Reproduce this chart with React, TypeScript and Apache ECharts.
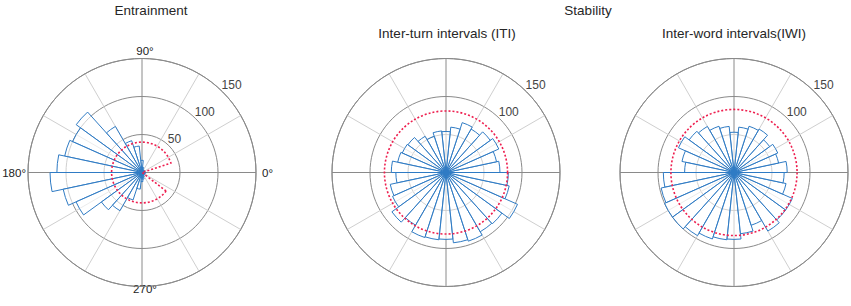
import React, { useEffect, useRef } from 'react';
import * as echarts from 'echarts';

// ---------------- data ----------------
const binStarts = [0, 12, 24, 36, 48, 60, 72, 84, 96, 108, 120, 132, 144, 156, 168, 180, 192, 204, 216, 228, 240, 252, 264, 276, 288, 300, 312, 324, 336, 348];
const binWidth = 12;

const entrainmentCounts = [4, 3, 2, 2, 1, 2, 7, 16, 35, 44, 70, 107, 100, 104, 112, 121, 106, 95, 66, 58, 38, 22, 12, 9, 6, 4, 3, 2, 3, 5];
const itiCounts = [71, 68, 76, 72, 66, 69, 60, 54, 55, 50, 55, 62, 63, 65, 72, 66, 75, 77, 88, 80, 90, 89, 88, 93, 95, 90, 91, 103, 85, 82];
const iwiCounts = [70, 60, 63, 58, 66, 64, 60, 53, 61, 64, 70, 73, 80, 70, 65, 93, 98, 100, 100, 96, 92, 89, 88, 81, 73, 89, 84, 84, 70, 66];

// reference (red dotted) outlines: [radius, fromAngle, toAngle]
const entrainmentRef = [40, 18, 322.5];
const itiRef = [81, 0, 360];
const iwiRef = [83, 0, 360];

const angleTickLabels = [0, 90, 180, 270];
const radialTicksEntrainment = [50, 100, 150];
const radialTicksStability = [100, 150];

const panelTitles = ['Entrainment', 'Inter-turn intervals (ITI)', 'Inter-word intervals(IWI)'];
const groupTitle = 'Stability';

// ---------------- style ----------------
const FONT = '"Liberation Sans", Arial, Helvetica, sans-serif';
const BLUE = '#2f7bc4';
const RED = '#ee1f4f';
const DARK_GRID = '#8a8a8a';
const LIGHT_GRID = '#cfcfcf';
const RMAX = 150;
const CENTERS = [142, 446, 734];
const CY = 172.5;
const RADIUS = 114;
const LABEL_ANGLE = 45;

function binRows(counts: number[]) {
  return counts.map((c, i) => [binStarts[i], binStarts[i] + binWidth, c]);
}

function barRender(params: any, api: any) {
  const a0 = api.value(0);
  const a1 = api.value(1);
  const v = api.value(2);
  const c = api.coord([0, 0]);
  const p = api.coord([v, a0]);
  const r = Math.hypot(p[0] - c[0], p[1] - c[1]);
  const d = Math.PI / 180;
  const sector = {
    type: 'sector',
    shape: { cx: c[0], cy: c[1], r0: 0, r, startAngle: -a1 * d, endAngle: -a0 * d, clockwise: true },
    style: { fill: 'rgba(255,255,255,0.6)', stroke: BLUE, lineWidth: 1 },
  };
  if (params.dataIndex === params.dataInsideLength - 1) {
    return {
      type: 'group',
      children: [
        sector,
        { type: 'circle', shape: { cx: c[0], cy: c[1], r: 3.5 }, style: { fill: BLUE } },
      ],
    };
  }
  return sector;
}

function refRender(params: any, api: any) {
  const rv = api.value(0);
  const from = api.value(1);
  const to = api.value(2);
  const c = api.coord([0, 0]);
  const p = api.coord([rv, from]);
  const r = Math.hypot(p[0] - c[0], p[1] - c[1]);
  const style = { fill: 'none', stroke: RED, lineWidth: 1.6, lineDash: [2, 2] };
  if (to - from >= 360) {
    return { type: 'circle', shape: { cx: c[0], cy: c[1], r }, style };
  }
  const d = Math.PI / 180;
  return {
    type: 'sector',
    shape: { cx: c[0], cy: c[1], r0: 0, r, startAngle: -to * d, endAngle: -from * d, clockwise: true },
    style,
  };
}

function tickLabelRender(params: any, api: any) {
  const t = api.value(0);
  const a = api.value(1);
  const p = api.coord([t, a]);
  return {
    type: 'text',
    x: p[0] - 1,
    y: p[1] - 7,
    style: {
      text: String(t),
      fill: '#444',
      fontSize: 12,
      fontFamily: FONT,
      align: 'left',
      verticalAlign: 'middle',
    },
  };
}

export default function App() {
  const ref = useRef<HTMLDivElement>(null);

  useEffect(() => {
    if (!ref.current) return;
    const chart = echarts.init(ref.current, undefined, { renderer: 'svg' });

    const polar = CENTERS.map((cx) => ({ center: [cx, CY], radius: RADIUS }));

    const labelRich = {
      a0: { padding: [0, 0, 0, 4] },
      a90: { padding: [0, 0, 0, 6] },
      a180: {},
      a270: { padding: [0, 0, 0, 6], lineHeight: 1 },
    };

    const angleAxis = CENTERS.map((_, i) => ({
      polarIndex: i,
      type: 'value',
      min: 0,
      max: 360,
      interval: 30,
      startAngle: 0,
      clockwise: false,
      axisLine: { show: true, lineStyle: { color: DARK_GRID, width: 1 } },
      axisTick: { show: false },
      axisLabel: {
        show: i === 0,
        margin: 2,
        fontFamily: FONT,
        fontSize: 11.5,
        color: '#222',
        rich: labelRich,
        formatter: (v: number) => (angleTickLabels.includes(v) ? `{a${v}|${v}°}` : ''),
      },
      splitLine: { show: true, lineStyle: { color: [DARK_GRID, LIGHT_GRID, LIGHT_GRID], width: 1 } },
    }));

    const radiusAxis = CENTERS.map((_, i) => ({
      polarIndex: i,
      type: 'value',
      min: 0,
      max: RMAX,
      interval: 50,
      axisLine: { show: false },
      axisTick: { show: false },
      axisLabel: { show: false },
      splitLine: { show: true, lineStyle: { color: DARK_GRID, width: 1 } },
    }));

    const countsList = [entrainmentCounts, itiCounts, iwiCounts];
    const refs = [entrainmentRef, itiRef, iwiRef];
    const radialTicks = [radialTicksEntrainment, radialTicksStability, radialTicksStability];

    const series: any[] = [];
    CENTERS.forEach((_, i) => {
      series.push({
        type: 'custom',
        coordinateSystem: 'polar',
        polarIndex: i,
        silent: true,
        z: 1,
        encode: { radius: 0, angle: 1 },
        renderItem: tickLabelRender,
        data: radialTicks[i].map((t) => [t, LABEL_ANGLE]),
      });
      series.push({
        type: 'custom',
        coordinateSystem: 'polar',
        polarIndex: i,
        z: 3,
        silent: true,
        encode: { radius: 2, angle: 0 },
        renderItem: barRender,
        data: binRows(countsList[i]),
      });
      series.push({
        type: 'custom',
        coordinateSystem: 'polar',
        polarIndex: i,
        z: 4,
        silent: true,
        encode: { radius: 0, angle: 1 },
        renderItem: refRender,
        data: [refs[i]],
      });
    });

    const titleStyle = { fontFamily: FONT, fontSize: 13.5, fontWeight: 'normal', color: '#262626' };

    chart.setOption({
      animation: false,
      backgroundColor: '#fff',
      title: [
        { text: panelTitles[0], left: 151, top: 3, textAlign: 'center', padding: 0, textStyle: titleStyle },
        { text: groupTitle, left: 588, top: 3, textAlign: 'center', padding: 0, textStyle: titleStyle },
        { text: panelTitles[1], left: 447, top: 26, textAlign: 'center', padding: 0, textStyle: titleStyle },
        { text: panelTitles[2], left: 734, top: 26, textAlign: 'center', padding: 0, textStyle: titleStyle },
      ],
      polar,
      angleAxis,
      radiusAxis,
      series,
    });

    return () => chart.dispose();
  }, []);

  return <div ref={ref} style={{ position: 'fixed', left: 0, top: 0, width: 851, height: 306 }} />;
}
